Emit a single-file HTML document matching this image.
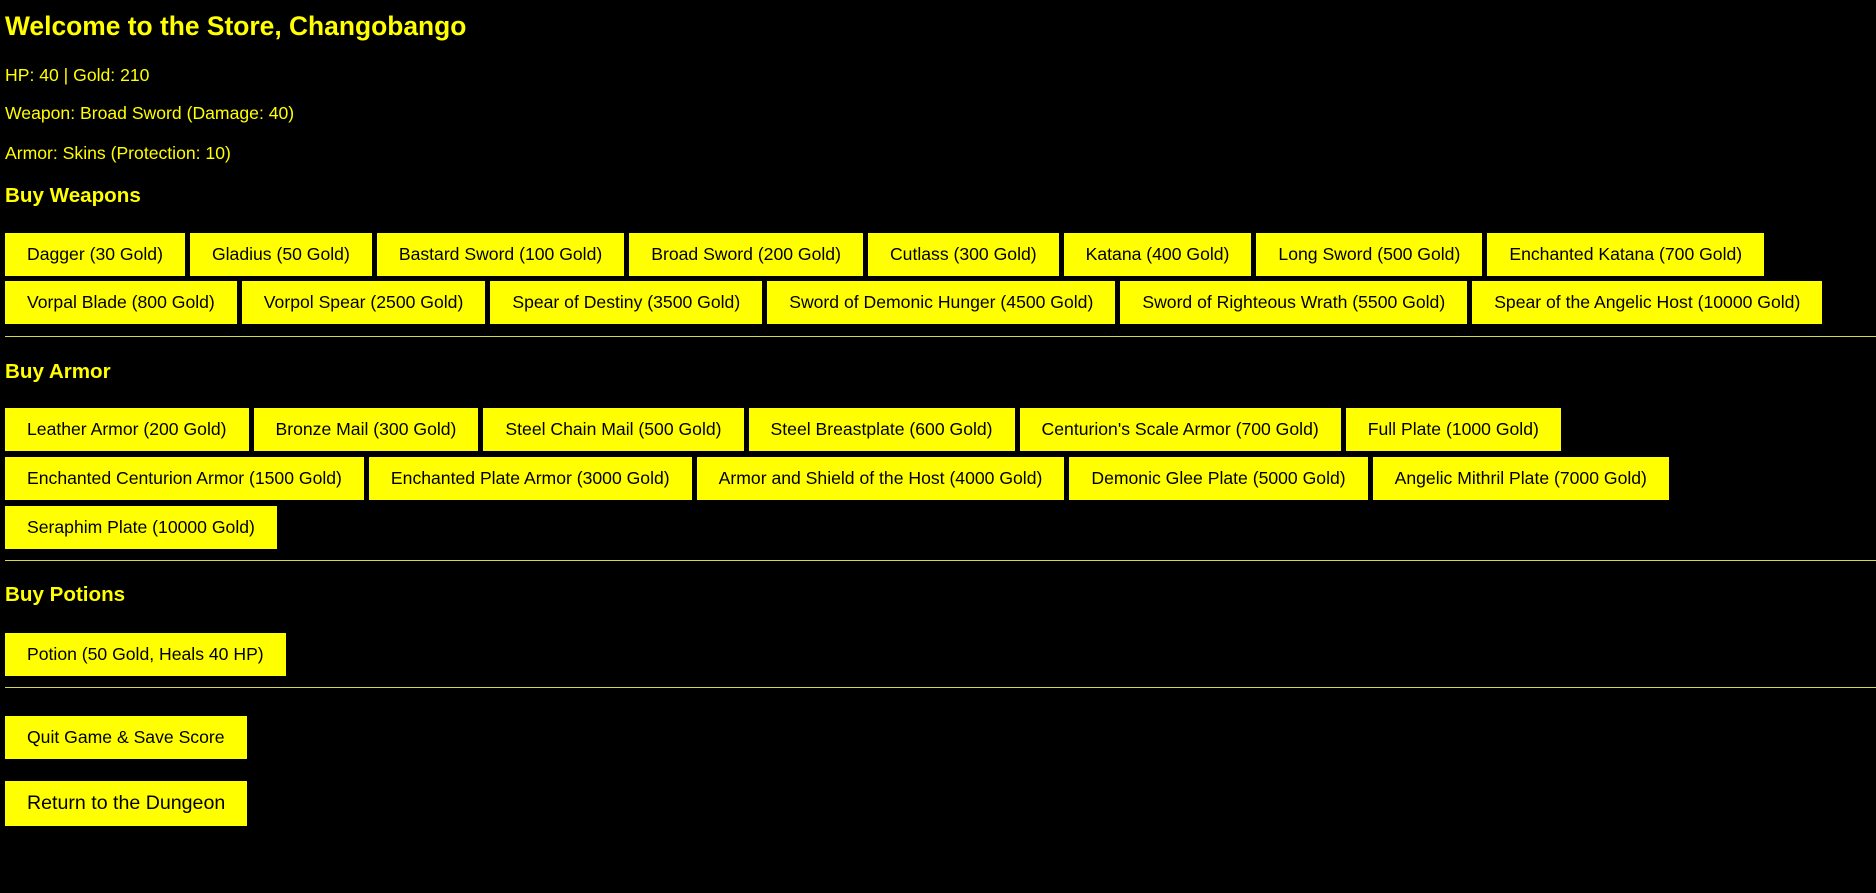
<!DOCTYPE html>
<html><head><meta charset="utf-8"><style>
html,body{margin:0;padding:0;background:#000;width:1876px;height:893px;overflow:hidden}
body{font-family:"Liberation Sans",Arial,sans-serif;color:#ffff00;position:relative}
.a{position:absolute;left:5px;white-space:nowrap}
h2{margin:0;font-size:26.4px;font-weight:bold}
p{margin:0;font-size:17.6px}
h3{margin:0;font-size:20.6px;font-weight:bold}
.row{display:flex;gap:5px}
.b{background:#ffff00;color:#000;font-size:17.6px;height:43px;line-height:43px;padding:0 22px;box-sizing:border-box}
.hr{position:absolute;left:5px;right:0;height:1px;background:#d8d84a}
</style></head><body>
<h2 class="a" style="top:11px">Welcome to the Store, Changobango</h2>
<p class="a" style="top:65px">HP: 40 | Gold: 210</p>
<p class="a" style="top:103px">Weapon: Broad Sword (Damage: 40)</p>
<p class="a" style="top:143px">Armor: Skins (Protection: 10)</p>
<h3 class="a" style="top:184px">Buy Weapons</h3>
<div class="a row" style="top:233px"><div class="b">Dagger (30 Gold)</div><div class="b">Gladius (50 Gold)</div><div class="b">Bastard Sword (100 Gold)</div><div class="b">Broad Sword (200 Gold)</div><div class="b">Cutlass (300 Gold)</div><div class="b">Katana (400 Gold)</div><div class="b">Long Sword (500 Gold)</div><div class="b">Enchanted Katana (700 Gold)</div></div>
<div class="a row" style="top:281px"><div class="b">Vorpal Blade (800 Gold)</div><div class="b">Vorpol Spear (2500 Gold)</div><div class="b">Spear of Destiny (3500 Gold)</div><div class="b">Sword of Demonic Hunger (4500 Gold)</div><div class="b">Sword of Righteous Wrath (5500 Gold)</div><div class="b">Spear of the Angelic Host (10000 Gold)</div></div>
<div class="hr" style="top:336px"></div>
<h3 class="a" style="top:360px">Buy Armor</h3>
<div class="a row" style="top:408px"><div class="b">Leather Armor (200 Gold)</div><div class="b">Bronze Mail (300 Gold)</div><div class="b">Steel Chain Mail (500 Gold)</div><div class="b">Steel Breastplate (600 Gold)</div><div class="b">Centurion's Scale Armor (700 Gold)</div><div class="b">Full Plate (1000 Gold)</div></div>
<div class="a row" style="top:457px"><div class="b">Enchanted Centurion Armor (1500 Gold)</div><div class="b">Enchanted Plate Armor (3000 Gold)</div><div class="b">Armor and Shield of the Host (4000 Gold)</div><div class="b">Demonic Glee Plate (5000 Gold)</div><div class="b">Angelic Mithril Plate (7000 Gold)</div></div>
<div class="a row" style="top:506px"><div class="b">Seraphim Plate (10000 Gold)</div></div>
<div class="hr" style="top:560px"></div>
<h3 class="a" style="top:583px">Buy Potions</h3>
<div class="a row" style="top:633px"><div class="b">Potion (50 Gold, Heals 40 HP)</div></div>
<div class="hr" style="top:687px"></div>
<div class="a row" style="top:716px"><div class="b">Quit Game &amp; Save Score</div></div>
<div class="a row" style="top:781px"><div class="b" style="font-size:19.6px;height:45px;line-height:45px">Return to the Dungeon</div></div>
</body></html>
